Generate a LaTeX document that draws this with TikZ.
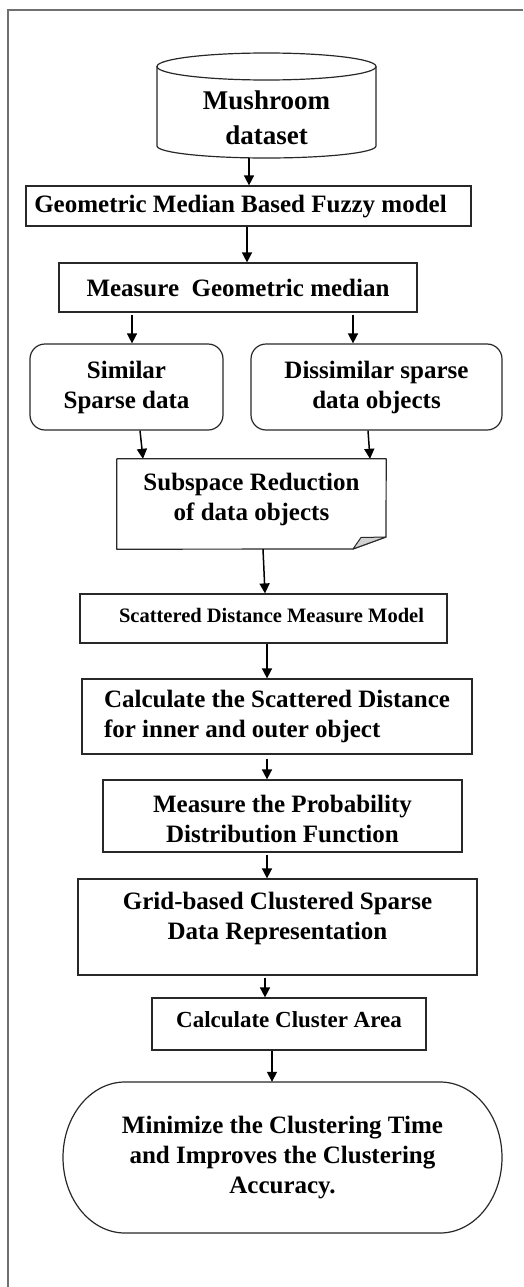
\documentclass[tikz,border=0pt]{standalone}
\usepackage{fontspec}
\setmainfont{Liberation Serif}
\usetikzlibrary{arrows.meta}

\newcommand\fmain{\fontsize{25}{30}\selectfont\bfseries}
\newcommand\fdb{\fontsize{27}{35}\selectfont\bfseries}
\newcommand\fsmall{\fontsize{20.5}{25}\selectfont\bfseries}
\newcommand\farea{\fontsize{23}{28}\selectfont\bfseries}

\definecolor{framegray}{RGB}{112,112,112}
\definecolor{edge}{RGB}{40,40,40}

\tikzset{
  stepbox/.style={draw=edge, line width=1.2pt, inner sep=0pt, align=center, font=\fmain},
  roundbox/.style={stepbox, rounded corners=15pt},
  plainnode/.style={inner sep=0pt, align=center, font=\fmain},
  txt/.style={inner sep=0pt, align=center, font=\fmain},
  arr/.style={line width=1.5pt, -{Triangle[length=10pt,width=10pt]}},
  outline/.style={draw=edge, line width=1.2pt},
}

\begin{document}
\begin{tikzpicture}[x=1pt,y=-1pt]
\useasboundingbox (0,0) rectangle (523,1287);

% outer frame (open to the right and bottom)
\draw[framegray, line width=2.2pt] (8,1287) -- (8,10) -- (523,10);

% data store: cylinder body and its text
\node[plainnode, minimum width=219pt, minimum height=91.5pt,
      label={[name=dbtext, txt, font=\fdb, yshift=-5.25pt]center:Mushroom\\dataset}]
      (db) at (266.5,112.25) {};
\draw[outline] (266.5,66.5) ellipse [x radius=109.5, y radius=13.5];
\draw[outline] (157,66.5) -- (157,146) arc [start angle=180, end angle=0, x radius=109.5, y radius=12] -- (376,66.5);

% process steps
\node[stepbox, minimum width=445pt, minimum height=40pt,
      label={[name=g1text, txt, xshift=-8pt, yshift=-1pt]center:Geometric Median Based Fuzzy model}]
      (g1) at (248.5,206) {};
\node[stepbox, minimum width=358pt, minimum height=49pt]
      (g2) at (238,287.5) {Measure\ \ Geometric median};
\node[roundbox, minimum width=193pt, minimum height=86pt]
      (sim) at (126.5,387) {Similar\\Sparse data};
\node[roundbox, minimum width=251pt, minimum height=86pt]
      (dis) at (376.5,387) {Dissimilar sparse\\data objects};

% document with folded corner
\node[plainnode, minimum width=269pt, minimum height=90pt,
      label={[name=subtext, txt, yshift=5pt]center:Subspace Reduction\\of data objects}]
      (sub) at (251.5,504) {};
\draw[outline, line join=round] (sub.north west) -- (sub.north east) -- (386,537) -- (353,549) -- (sub.south west) -- cycle;
\draw[edge, line width=1pt, fill=gray!35, line join=round] (353,549) -- (361,537.5) -- (386,537) -- cycle;

\node[stepbox, minimum width=367pt, minimum height=49pt,
      label={[name=sdmtext, txt, font=\fsmall, xshift=8pt, yshift=2.5pt]center:Scattered Distance Measure Model}]
      (sdm) at (263.5,618.5) {};
\node[stepbox, minimum width=390pt, minimum height=75pt, align=left]
      (calc) at (277,716.5) {Calculate the Scattered Distance\\for inner and outer object};
\node[stepbox, minimum width=359pt, minimum height=72pt,
      label={[name=probtext, txt, yshift=-3pt]center:Measure the Probability\\Distribution Function}]
      (prob) at (282.5,816) {};
\node[stepbox, minimum width=399pt, minimum height=96pt,
      label={[name=gridtext, txt, yshift=8.5pt]center:Grid-based Clustered Sparse\\Data Representation}]
      (grid) at (277.5,927) {};
\node[stepbox, minimum width=274pt, minimum height=52pt,
      label={[name=areatext, txt, font=\farea, yshift=4pt]center:Calculate Cluster Area}]
      (area) at (289,1024) {};

% terminator with rounded ends
\node[plainnode, minimum width=439pt, minimum height=151pt]
      (term) at (282.5,1157.5) {Minimize the Clustering Time\\and Improves the Clustering\\Accuracy.};
\draw[outline] (125,1082) -- (440,1082)
  arc [start angle=-90, end angle=90, x radius=62, y radius=75.5]
  -- (125,1233)
  arc [start angle=90, end angle=270, x radius=62, y radius=75.5];

% connectors
\draw[arr] ([xshift=-17.5pt]db.south) -- ([xshift=0.5pt]g1.north);
\draw[arr] ([xshift=-1.5pt]g1.south) -- ([xshift=9pt]g2.north);
\draw[arr] ([xshift=-106pt,yshift=-2pt]g2.south) -- ([xshift=5.5pt]sim.north);
\draw[arr] ([xshift=115pt,yshift=-2pt]g2.south) -- ([xshift=-23.5pt]dis.north);
\draw[arr] ([xshift=13.5pt]sim.south) -- ([xshift=-108.5pt]sub.north);
\draw[arr] ([xshift=-8.5pt]dis.south) -- ([xshift=118.5pt]sub.north);
\draw[arr] ([xshift=11.5pt]sub.south) -- ([xshift=1.5pt]sdm.north);
\draw[arr] ([xshift=3.5pt]sdm.south) -- ([xshift=-10pt]calc.north);
\draw[arr] ([xshift=-10pt,yshift=-4pt]calc.south) -- ([xshift=-15.5pt]prob.north);
\draw[arr] ([xshift=-15.5pt,yshift=-2pt]prob.south) -- ([xshift=-10.5pt]grid.north);
\draw[arr] ([xshift=-12.5pt,yshift=-2pt]grid.south) -- ([xshift=-24pt]area.north);
\draw[arr] ([xshift=-17pt]area.south) -- ([xshift=-10.5pt]term.north);
\end{tikzpicture}
\end{document}
